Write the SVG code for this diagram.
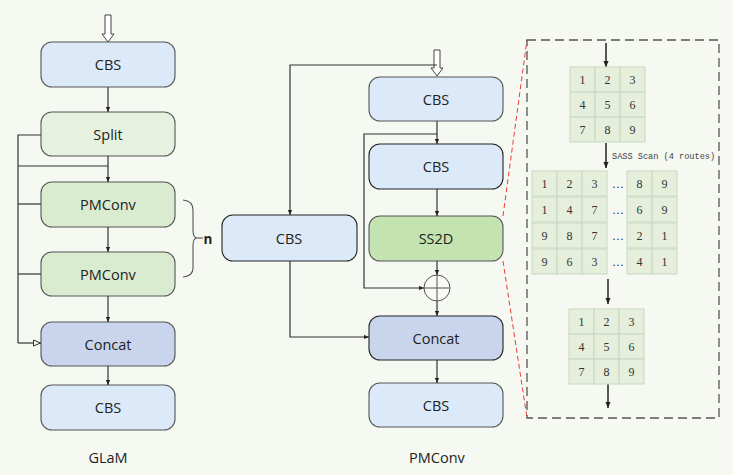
<svg xmlns="http://www.w3.org/2000/svg" width="733" height="475" viewBox="0 0 733 475">
<defs>
<marker id="ah" viewBox="0 0 6 6" refX="6" refY="3" markerWidth="5" markerHeight="5" orient="auto" markerUnits="userSpaceOnUse"><path d="M0,0.5 L6,3 L0,5.5 Z" fill="#222"/></marker>
<marker id="ao" viewBox="0 0 8 8" refX="8" refY="4" markerWidth="8" markerHeight="8" orient="auto" markerUnits="userSpaceOnUse"><path d="M0.5,1 L7.5,4 L0.5,7 Z" fill="#f5f9f2" stroke="#333" stroke-width="1"/></marker>
<marker id="ab" viewBox="0 0 8 8" refX="7" refY="4" markerWidth="7" markerHeight="7" orient="auto" markerUnits="userSpaceOnUse"><path d="M0,1 L7,4 L0,7 Z" fill="#222"/></marker>
</defs>
<style>
.node rect{stroke:#555;stroke-width:1.1}
.cbs{fill:#dbe9f8}
.split{fill:#e7f1df}
.pm{fill:#daecd0}
.cat{fill:#c9d5ed}
.ss{fill:#c3e3b1}
.dark{stroke:#222 !important}
.lbl{font-family:"Open Sans","Noto Sans",sans-serif;font-size:14.5px;fill:#222;text-anchor:middle;dominant-baseline:central}
.c{fill:none;stroke:#333;stroke-width:1.2}
.cell{fill:#e5efdb;stroke:#c9d7c0;stroke-width:1}
.num{font-family:"Liberation Serif","DejaVu Serif",serif;font-size:12px;fill:#333;text-anchor:middle;dominant-baseline:central}
</style>
<rect width="733" height="475" fill="#f5f9f2"/>

<!-- Left column nodes -->
<g id="glam-cbs1" class="node"><rect class="cbs" x="41" y="42" width="134" height="45" rx="11"/><text class="lbl" x="108" y="64.5">CBS</text></g>
<g id="glam-split" class="node"><rect class="split" x="41" y="112" width="134" height="44" rx="11"/><text class="lbl" x="108" y="134">Split</text></g>
<g id="glam-pm1" class="node"><rect class="pm" x="41" y="182" width="134" height="45" rx="11"/><text class="lbl" x="108" y="204.5">PMConv</text></g>
<g id="glam-pm2" class="node"><rect class="pm" x="41" y="252" width="134" height="44" rx="11"/><text class="lbl" x="108" y="274">PMConv</text></g>
<g id="glam-concat" class="node"><rect class="cat" x="41" y="322" width="134" height="44" rx="11"/><text class="lbl" x="108" y="344">Concat</text></g>
<g id="glam-cbs2" class="node"><rect class="cbs" x="41" y="385" width="134" height="45" rx="11"/><text class="lbl" x="108" y="407.5">CBS</text></g>
<text class="lbl" x="108" y="457">GLaM</text>

<!-- Middle column nodes -->
<g id="pm-cbs1" class="node"><rect class="cbs" x="369" y="77" width="134" height="44" rx="11"/><text class="lbl" x="436" y="99">CBS</text></g>
<g id="pm-cbs2" class="node"><rect class="cbs dark" x="369" y="144" width="134" height="45" rx="11"/><text class="lbl" x="436" y="166.5">CBS</text></g>
<g id="pm-ss2d" class="node"><rect class="ss" x="369" y="216" width="134" height="45" rx="11"/><text class="lbl" x="436" y="238.5">SS2D</text></g>
<g id="pm-cbsl" class="node"><rect class="cbs dark" x="222" y="215" width="135" height="46" rx="11"/><text class="lbl" x="289" y="238">CBS</text></g>
<g id="pm-add" class="node"><circle cx="437" cy="288" r="13" fill="#f7faf5" stroke="#555" stroke-width="1"/><path d="M424,288 H450 M437,275 V301" stroke="#555" stroke-width="1"/></g>
<g id="pm-concat" class="node"><rect class="cat dark" x="369" y="316" width="134" height="44" rx="11"/><text class="lbl" x="436" y="338">Concat</text></g>
<g id="pm-cbs3" class="node"><rect class="cbs" x="369" y="383" width="134" height="44" rx="11"/><text class="lbl" x="436" y="405">CBS</text></g>
<text class="lbl" x="437" y="457">PMConv</text>

<!-- Connectors -->
<g id="connectors">
<polygon points="105,15 111,15 111,34 114,34 108,42 102,34 105,34" fill="#fff" stroke="#444" stroke-width="1"/>
<path class="c" d="M108,87 V112" marker-end="url(#ah)"/>
<path class="c" d="M108,156 V182" marker-end="url(#ah)"/>
<path class="c" d="M18,166 H108"/>
<path class="c" d="M41,135 H18 V343"/>
<path class="c" d="M18,204 H41"/>
<path class="c" d="M18,274 H41"/>
<path class="c" d="M18,343 H41" marker-end="url(#ao)"/>
<path class="c" d="M108,227 V252" marker-end="url(#ah)"/>
<path class="c" d="M108,296 V322" marker-end="url(#ah)"/>
<path class="c" d="M108,366 V385" marker-end="url(#ah)"/>
<path d="M183,200 Q193,201 193,210 V230 Q193,238 197,238 Q193,238 193,246 V268 Q193,276 183,277" fill="none" stroke="#555" stroke-width="1.1"/>
<path d="M197,238 H203" stroke="#555" stroke-width="1.1"/>
<text x="208" y="239" font-family="Open Sans,Noto Sans,sans-serif" font-size="13.5" font-weight="bold" fill="#222" text-anchor="middle" dominant-baseline="central">n</text>

<polygon points="434,50 440,50 440,68 443,68 437,76 431,68 434,68" fill="#fff" stroke="#444" stroke-width="1"/>
<path class="c" d="M437,65 H290 V215" marker-end="url(#ah)"/>
<path class="c" d="M437,121 V144" marker-end="url(#ah)"/>
<path class="c" d="M437,134 H364 V288 H424" marker-end="url(#ah)"/>
<path class="c" d="M437,189 V216" marker-end="url(#ah)"/>
<path class="c" d="M437,261 V275" marker-end="url(#ah)"/>
<path class="c" d="M437,301 V316" marker-end="url(#ah)"/>
<path class="c" d="M290,261 V337 H369" marker-end="url(#ah)"/>
<path class="c" d="M437,360 V383" marker-end="url(#ah)"/>

<path d="M503,216 L527,40 M503,261 L527,418" stroke="#f03a3a" stroke-width="1" stroke-dasharray="5,3" fill="none"/>
<rect x="527" y="40" width="192" height="378" fill="none" stroke="#555" stroke-width="1.3" stroke-dasharray="9,5"/>
<path d="M606,43 V67" stroke="#222" stroke-width="1.5" marker-end="url(#ab)"/>
<path d="M606,143 V168" stroke="#222" stroke-width="1.5" marker-end="url(#ab)"/>
<path d="M608,279 V304" stroke="#222" stroke-width="1.5" marker-end="url(#ab)"/>
<path d="M608,384 V408" stroke="#222" stroke-width="1.5" marker-end="url(#ab)"/>
</g>

<text x="612" y="157" font-family="Liberation Mono,DejaVu Sans Mono,monospace" font-size="8.6" fill="#444" dominant-baseline="central">SASS Scan (4 routes)</text>

<!-- Grid 1 -->
<g id="grid-in">
<rect class="cell" x="570" y="67" width="25" height="25"/><rect class="cell" x="595" y="67" width="25" height="25"/><rect class="cell" x="620" y="67" width="25" height="25"/>
<rect class="cell" x="570" y="92" width="25" height="25"/><rect class="cell" x="595" y="92" width="25" height="25"/><rect class="cell" x="620" y="92" width="25" height="25"/>
<rect class="cell" x="570" y="117" width="25" height="25"/><rect class="cell" x="595" y="117" width="25" height="25"/><rect class="cell" x="620" y="117" width="25" height="25"/>
<text class="num" x="582.5" y="79.5">1</text><text class="num" x="607.5" y="79.5">2</text><text class="num" x="632.5" y="79.5">3</text>
<text class="num" x="582.5" y="104.5">4</text><text class="num" x="607.5" y="104.5">5</text><text class="num" x="632.5" y="104.5">6</text>
<text class="num" x="582.5" y="129.5">7</text><text class="num" x="607.5" y="129.5">8</text><text class="num" x="632.5" y="129.5">9</text>
</g>

<!-- Scan rows -->
<g id="grid-scan">
<rect class="cell" x="532" y="171" width="25" height="25"/><rect class="cell" x="557" y="171" width="25" height="25"/><rect class="cell" x="582" y="171" width="25" height="25"/><rect class="cell" x="627" y="171" width="25" height="25"/><rect class="cell" x="652" y="171" width="25" height="25"/>
<rect class="cell" x="532" y="197" width="25" height="25"/><rect class="cell" x="557" y="197" width="25" height="25"/><rect class="cell" x="582" y="197" width="25" height="25"/><rect class="cell" x="627" y="197" width="25" height="25"/><rect class="cell" x="652" y="197" width="25" height="25"/>
<rect class="cell" x="532" y="223" width="25" height="25"/><rect class="cell" x="557" y="223" width="25" height="25"/><rect class="cell" x="582" y="223" width="25" height="25"/><rect class="cell" x="627" y="223" width="25" height="25"/><rect class="cell" x="652" y="223" width="25" height="25"/>
<rect class="cell" x="532" y="249" width="25" height="25"/><rect class="cell" x="557" y="249" width="25" height="25"/><rect class="cell" x="582" y="249" width="25" height="25"/><rect class="cell" x="627" y="249" width="25" height="25"/><rect class="cell" x="652" y="249" width="25" height="25"/>
<text class="num" x="544.5" y="183.5">1</text><text class="num" x="569.5" y="183.5">2</text><text class="num" x="594.5" y="183.5">3</text><text class="num" x="618" y="183.5">…</text><text class="num" x="639.5" y="183.5">8</text><text class="num" x="664.5" y="183.5">9</text>
<text class="num" x="544.5" y="209.5">1</text><text class="num" x="569.5" y="209.5">4</text><text class="num" x="594.5" y="209.5">7</text><text class="num" x="618" y="209.5">…</text><text class="num" x="639.5" y="209.5">6</text><text class="num" x="664.5" y="209.5">9</text>
<text class="num" x="544.5" y="235.5">9</text><text class="num" x="569.5" y="235.5">8</text><text class="num" x="594.5" y="235.5">7</text><text class="num" x="618" y="235.5">…</text><text class="num" x="639.5" y="235.5">2</text><text class="num" x="664.5" y="235.5">1</text>
<text class="num" x="544.5" y="261.5">9</text><text class="num" x="569.5" y="261.5">6</text><text class="num" x="594.5" y="261.5">3</text><text class="num" x="618" y="261.5">…</text><text class="num" x="639.5" y="261.5">4</text><text class="num" x="664.5" y="261.5">1</text>
</g>

<!-- Grid out -->
<g id="grid-out">
<rect class="cell" x="569" y="309" width="25" height="25"/><rect class="cell" x="594" y="309" width="25" height="25"/><rect class="cell" x="619" y="309" width="25" height="25"/>
<rect class="cell" x="569" y="334" width="25" height="25"/><rect class="cell" x="594" y="334" width="25" height="25"/><rect class="cell" x="619" y="334" width="25" height="25"/>
<rect class="cell" x="569" y="359" width="25" height="25"/><rect class="cell" x="594" y="359" width="25" height="25"/><rect class="cell" x="619" y="359" width="25" height="25"/>
<text class="num" x="581.5" y="321.5">1</text><text class="num" x="606.5" y="321.5">2</text><text class="num" x="631.5" y="321.5">3</text>
<text class="num" x="581.5" y="346.5">4</text><text class="num" x="606.5" y="346.5">5</text><text class="num" x="631.5" y="346.5">6</text>
<text class="num" x="581.5" y="371.5">7</text><text class="num" x="606.5" y="371.5">8</text><text class="num" x="631.5" y="371.5">9</text>
</g>
</svg>
